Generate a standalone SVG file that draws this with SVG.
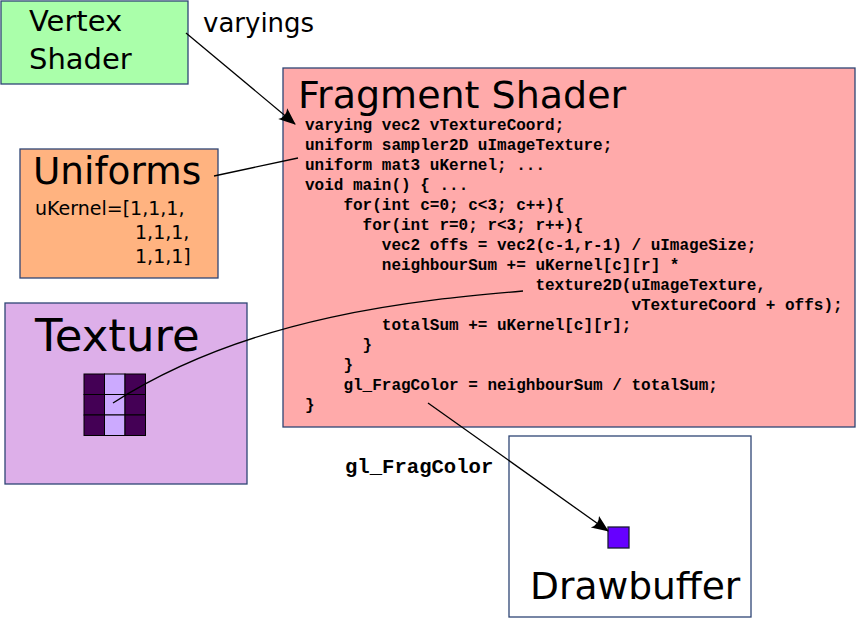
<svg xmlns="http://www.w3.org/2000/svg" width="856" height="618" viewBox="0 0 856 618">
<style>
.box{stroke:#2e4575;stroke-width:1.3}
.sans{font-family:"DejaVu Sans","Liberation Sans",sans-serif;fill:#000}
.code{font-family:"Liberation Mono","Courier New",monospace;font-weight:bold;font-size:16px;fill:#000}
.conn{fill:none;stroke:#000;stroke-width:1.3}
.cell{stroke:#000;stroke-width:1}
</style>
<defs>
<marker id="arr" markerUnits="userSpaceOnUse" orient="auto" refX="0" refY="0" markerWidth="20" markerHeight="20" overflow="visible">
<path d="M1,0 L-16,-7 Q-11,0 -16,7 Z" fill="#000"/>
</marker>
</defs>
<rect width="856" height="618" fill="#fff"/>
<g id="vertex-shader">
<rect class="box" x="1" y="1" width="187" height="83" fill="#aaffaa"/>
<text class="sans" x="29" y="31" font-size="29">Vertex</text>
<text class="sans" x="29" y="69" font-size="29">Shader</text>
</g>
<g id="fragment-shader">
<rect class="box" x="283" y="68" width="572" height="359" fill="#ffaaaa"/>
<text class="sans" x="298" y="108" font-size="38">Fragment Shader</text>
<text class="code" x="305" y="130">varying vec2 vTextureCoord;</text>
<text class="code" x="305" y="150">uniform sampler2D uImageTexture;</text>
<text class="code" x="305" y="170">uniform mat3 uKernel; ...</text>
<text class="code" x="305" y="190">void main() { ...</text>
<text class="code" x="343.4" y="210">for(int c=0; c&lt;3; c++){</text>
<text class="code" x="362.6" y="230">for(int r=0; r&lt;3; r++){</text>
<text class="code" x="381.8" y="250">vec2 offs = vec2(c-1,r-1) / uImageSize;</text>
<text class="code" x="381.8" y="270">neighbourSum += uKernel[c][r] *</text>
<text class="code" x="535.4" y="290">texture2D(uImageTexture,</text>
<text class="code" x="631.4" y="310">vTextureCoord + offs);</text>
<text class="code" x="381.8" y="330">totalSum += uKernel[c][r];</text>
<text class="code" x="362.6" y="350">}</text>
<text class="code" x="343.4" y="370">}</text>
<text class="code" x="343.4" y="390">gl_FragColor = neighbourSum / totalSum;</text>
<text class="code" x="305" y="410">}</text>
</g>
<g id="uniforms">
<rect class="box" x="20" y="149" width="198" height="129" fill="#ffb380"/>
<text class="sans" x="33" y="184" font-size="37.4">Uniforms</text>
<text class="sans" x="35" y="215" font-size="19">uKernel=[1,1,1,</text>
<text class="sans" x="135" y="239" font-size="19">1,1,1,</text>
<text class="sans" x="135" y="263" font-size="19">1,1,1]</text>
</g>
<g id="texture">
<rect class="box" x="5" y="303" width="242" height="181" fill="#ddafe9"/>
<text class="sans" x="35" y="351" font-size="45">Texture</text>
<rect class="cell" x="84" y="374" width="20.5" height="20.5" fill="#440055"/>
<rect class="cell" x="104.5" y="374" width="20.5" height="20.5" fill="#ccaaff"/>
<rect class="cell" x="125" y="374" width="20.5" height="20.5" fill="#440055"/>
<rect class="cell" x="84" y="394.5" width="20.5" height="20.5" fill="#440055"/>
<rect class="cell" x="104.5" y="394.5" width="20.5" height="20.5" fill="#ccaaff"/>
<rect class="cell" x="125" y="394.5" width="20.5" height="20.5" fill="#440055"/>
<rect class="cell" x="84" y="415" width="20.5" height="20.5" fill="#440055"/>
<rect class="cell" x="104.5" y="415" width="20.5" height="20.5" fill="#ccaaff"/>
<rect class="cell" x="125" y="415" width="20.5" height="20.5" fill="#440055"/>
</g>
<g id="drawbuffer">
<rect class="box" x="509" y="436" width="242" height="181" fill="#fff"/>
<rect x="608" y="527" width="21" height="21" fill="#6600ff" stroke="#1a1a33" stroke-width="1.3"/>
<text class="sans" x="530" y="599" font-size="37.6">Drawbuffer</text>
</g>
<g id="connectors">
<path class="conn" d="M186,33 L295,124" marker-end="url(#arr)"/>
<text class="sans" x="203" y="32" font-size="26">varyings</text>
<path class="conn" d="M214,176 L298,158"/>
<path class="conn" d="M523,291 C420,300 250,315 113,403"/>
<path class="conn" d="M428,403 L608,531" marker-end="url(#arr)"/>
<text x="345" y="473" font-family="'Liberation Mono','Courier New',monospace" font-weight="bold" font-size="20.6">gl_FragColor</text>
</g>
</svg>
